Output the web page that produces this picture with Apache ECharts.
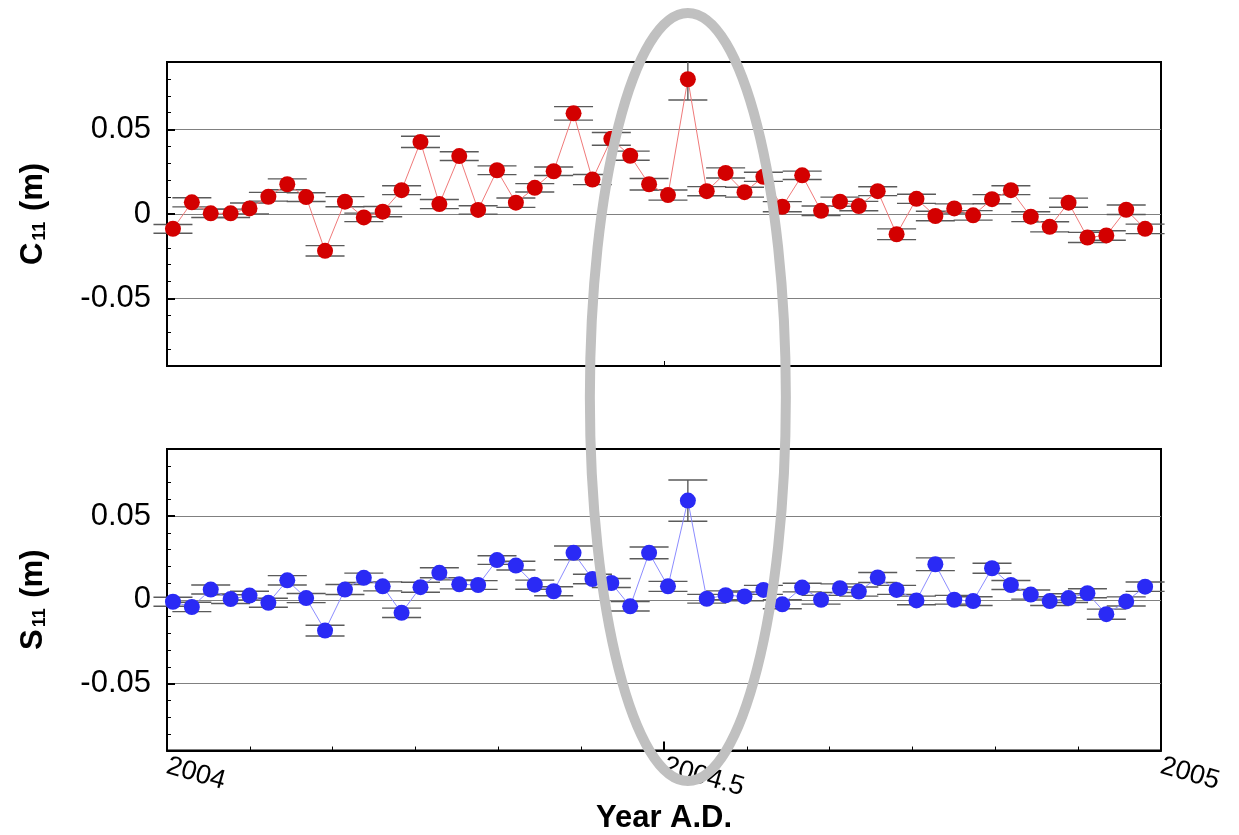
<!DOCTYPE html>
<html>
<head>
<meta charset="utf-8">
<script src="https://cdn.jsdelivr.net/npm/echarts@6/dist/echarts.min.js"></script>
<style>
  html, body { margin: 0; background: #fff; }
  #chart { width: 1239px; height: 835px; }
</style>
</head>
<body>
<div id="chart"></div>
<script>
// weekly epochs, decimal year
const years = [
  2004.006, 2004.025, 2004.044, 2004.064, 2004.083, 2004.102, 2004.121, 2004.140,
  2004.159, 2004.179, 2004.198, 2004.217, 2004.236, 2004.255, 2004.274, 2004.294,
  2004.313, 2004.332, 2004.351, 2004.370, 2004.389, 2004.409, 2004.428, 2004.447,
  2004.466, 2004.485, 2004.504, 2004.524, 2004.543, 2004.562, 2004.581, 2004.600,
  2004.619, 2004.639, 2004.658, 2004.677, 2004.696, 2004.715, 2004.734, 2004.754,
  2004.773, 2004.792, 2004.811, 2004.830, 2004.849, 2004.869, 2004.888, 2004.907,
  2004.926, 2004.945, 2004.965, 2004.984
];

const c11 = [
  -0.0088, 0.0069, 0.0004, 0.0004, 0.0033, 0.0102, 0.0176, 0.0100,
  -0.0218, 0.0073, -0.0020, 0.0014, 0.0141, 0.0427, 0.0059, 0.0343,
  0.0024, 0.0259, 0.0067, 0.0155, 0.0253, 0.0596, 0.0204, 0.0445,
  0.0345, 0.0176, 0.0112, 0.0798, 0.0135, 0.0243, 0.0129, 0.0220,
  0.0043, 0.0229, 0.0019, 0.0073, 0.0047, 0.0135, -0.0120, 0.0090,
  -0.0012, 0.0033, -0.0008, 0.0088, 0.0141, -0.0016, -0.0076, 0.0067,
  -0.0139, -0.0127, 0.0025, -0.0088
];
const c11Err = [
  0.0026, 0.0027, 0.0025, 0.0025, 0.0032, 0.0026, 0.0032, 0.0026,
  0.0031, 0.0030, 0.0025, 0.0030, 0.0026, 0.0033, 0.0027, 0.0026,
  0.0025, 0.0026, 0.0028, 0.0025, 0.0025, 0.0040, 0.0030, 0.0038,
  0.0027, 0.0034, 0.0030, 0.0123, 0.0027, 0.0030, 0.0029, 0.0027,
  0.0030, 0.0025, 0.0028, 0.0027, 0.0028, 0.0026, 0.0032, 0.0027,
  0.0028, 0.0027, 0.0028, 0.0027, 0.0026, 0.0029, 0.0030, 0.0027,
  0.0030, 0.0028, 0.0028, 0.0028
];

const s11 = [
  -0.0012, -0.0043, 0.0061, 0.0004, 0.0025, -0.0018, 0.0116, 0.0010,
  -0.0184, 0.0061, 0.0131, 0.0080, -0.0078, 0.0075, 0.0161, 0.0092,
  0.0088, 0.0237, 0.0204, 0.0090, 0.0051, 0.0280, 0.0124, 0.0100,
  -0.0039, 0.0280, 0.0080, 0.0592, 0.0006, 0.0027, 0.0020, 0.0059,
  -0.0027, 0.0073, 0.0000, 0.0069, 0.0049, 0.0133, 0.0059, -0.0004,
  0.0212, 0.0000, -0.0008, 0.0188, 0.0088, 0.0031, -0.0008, 0.0010,
  0.0039, -0.0086, -0.0010, 0.0078
];
const s11Err = [
  0.0027, 0.0028, 0.0027, 0.0026, 0.0026, 0.0027, 0.0028, 0.0027,
  0.0032, 0.0030, 0.0028, 0.0027, 0.0028, 0.0030, 0.0030, 0.0027,
  0.0026, 0.0026, 0.0026, 0.0027, 0.0027, 0.0041, 0.0028, 0.0027,
  0.0028, 0.0035, 0.0030, 0.0123, 0.0026, 0.0026, 0.0026, 0.0027,
  0.0027, 0.0026, 0.0026, 0.0026, 0.0027, 0.0030, 0.0027, 0.0026,
  0.0038, 0.0026, 0.0026, 0.0030, 0.0027, 0.0027, 0.0026, 0.0026,
  0.0027, 0.0030, 0.0027, 0.0028
];

const yMajor = [-0.05, 0, 0.05];
const xLabelsAt = [2004, 2004.5, 2005];
const highlightIndex = 27;

const FONT = "'Liberation Sans', Arial, Helvetica, sans-serif";

const chart = echarts.init(document.getElementById("chart"), null, {
  renderer: "canvas",
});

function errorBarItem(params, api) {
  const x = api.value(0);
  const y = api.value(1);
  const e = api.value(2);
  const top = api.coord([x, y + e]);
  const bot = api.coord([x, y - e]);
  const cs = params.coordSys;
  const yTop = cs.y;
  const yBot = cs.y + cs.height;
  const half = 19.5;
  const style = { stroke: "#5a5a5a", lineWidth: 1.4 };
  const children = [
    {
      type: "line",
      shape: {
        x1: top[0],
        y1: Math.max(top[1], yTop),
        x2: top[0],
        y2: Math.min(bot[1], yBot),
      },
      style: style,
    },
  ];
  if (top[1] >= yTop) {
    children.push({
      type: "line",
      shape: { x1: top[0] - half, y1: top[1], x2: top[0] + half, y2: top[1] },
      style: style,
    });
  }
  if (bot[1] <= yBot) {
    children.push({
      type: "line",
      shape: { x1: bot[0] - half, y1: bot[1], x2: bot[0] + half, y2: bot[1] },
      style: style,
    });
  }
  return { type: "group", children: children };
}

function yAxisName(letter) {
  return "{b|" + letter + "}{s|11}{b| (m)}";
}

function mainYAxis(gridIndex, letter) {
  return {
    gridIndex: gridIndex,
    type: "value",
    position: "left",
    min: -0.09,
    max: 0.09,
    name: yAxisName(letter),
    nameLocation: "middle",
    nameRotate: 90,
    nameGap: 118,
    nameTextStyle: {
      color: "#000",
      rich: {
        b: { fontSize: 31, fontWeight: "bold", fontFamily: FONT, color: "#000", lineHeight: 32 },
        s: { fontSize: 18, fontWeight: "bold", fontFamily: FONT, color: "#000", lineHeight: 18, verticalAlign: "bottom", padding: [0, 2, 0, 2] },
      },
    },
    axisLine: { show: true, lineStyle: { color: "#000", width: 2 } },
    axisTick: {
      show: true,
      inside: true,
      length: 8,
      customValues: yMajor,
      lineStyle: { color: "#000", width: 2 },
    },
    axisLabel: {
      customValues: yMajor,
      formatter: (v) => String(+v.toFixed(2)),
      fontSize: 31,
      fontFamily: FONT,
      color: "#000",
      margin: 16,
    },
    splitLine: { show: true, lineStyle: { color: "#808080", width: 1.2 } },
  };
}

function minorYAxis(gridIndex) {
  return {
    gridIndex: gridIndex,
    type: "value",
    position: "left",
    min: -0.09,
    max: 0.09,
    interval: 0.01,
    axisLine: { show: false },
    axisTick: { show: true, inside: true, length: 4, lineStyle: { color: "#000", width: 1 } },
    axisLabel: { show: false },
    splitLine: { show: false },
  };
}

function pairs(ys) {
  return years.map((x, i) => [x, ys[i]]);
}
function triples(ys, errs) {
  return years.map((x, i) => [x, ys[i], errs[i]]);
}

const option = {
  backgroundColor: "#fff",
  animation: false,
  grid: [
    { left: 167, top: 62, width: 994, height: 304, show: true, borderColor: "#000", borderWidth: 2, containLabel: false },
    { left: 167, top: 449, width: 994, height: 304, show: true, borderColor: "#000", borderWidth: 2, containLabel: false },
  ],
  xAxis: [
    {
      gridIndex: 0,
      type: "value",
      min: 2004,
      max: 2005,
      interval: 0.5,
      axisLine: { show: true, onZero: false, lineStyle: { color: "#000", width: 2 } },
      axisTick: { show: true, inside: true, length: 5, lineStyle: { color: "#000", width: 1 } },
      axisLabel: { show: false },
      splitLine: { show: false },
    },
    {
      gridIndex: 1,
      type: "value",
      min: 2004,
      max: 2005,
      interval: 0.5,
      name: "Year A.D.",
      nameLocation: "middle",
      nameGap: 49,
      nameTextStyle: { fontSize: 31, fontWeight: "bold", fontFamily: FONT, color: "#000" },
      axisLine: { show: true, onZero: false, lineStyle: { color: "#000", width: 2 } },
      axisTick: { show: true, inside: true, length: 9, lineStyle: { color: "#000", width: 2 } },
      minorTick: { show: true, splitNumber: 6, length: 4, lineStyle: { color: "#000", width: 1 } },
      axisLabel: {
        customValues: xLabelsAt,
        rotate: -16,
        fontSize: 27,
        fontFamily: FONT,
        color: "#000",
        margin: 15,
        formatter: (v) => String(v),
      },
      splitLine: { show: false },
    },
  ],
  yAxis: [mainYAxis(0, "C"), minorYAxis(0), mainYAxis(1, "S"), minorYAxis(1)],
  series: [
    {
      name: "C11 err",
      type: "custom",
      xAxisIndex: 0,
      yAxisIndex: 0,
      renderItem: errorBarItem,
      encode: { x: 0, y: 1 },
      data: triples(c11, c11Err),
      z: 3,
      silent: true,
    },
    {
      name: "C11",
      type: "line",
      xAxisIndex: 0,
      yAxisIndex: 0,
      data: pairs(c11),
      symbol: "circle",
      symbolSize: 16,
      itemStyle: { color: "#d30000" },
      lineStyle: { color: "#f07a7a", width: 1 },
      z: 4,
    },
    {
      name: "S11 err",
      type: "custom",
      xAxisIndex: 1,
      yAxisIndex: 2,
      renderItem: errorBarItem,
      encode: { x: 0, y: 1 },
      data: triples(s11, s11Err),
      z: 3,
      silent: true,
    },
    {
      name: "S11",
      type: "line",
      xAxisIndex: 1,
      yAxisIndex: 2,
      data: pairs(s11),
      symbol: "circle",
      symbolSize: 16,
      itemStyle: { color: "#2a2af5" },
      lineStyle: { color: "#8c8cff", width: 1 },
      z: 4,
    },
  ],
};

chart.setOption(option);

// grey annotation ring around the mid-2004 spike
const cx = chart.convertToPixel({ xAxisIndex: 0 }, years[highlightIndex]);
chart.setOption({
  graphic: [
    {
      type: "ellipse",
      shape: { cx: cx, cy: 397, rx: 98, ry: 384 },
      style: { fill: "none", stroke: "#c0c0c0", lineWidth: 10 },
      z: 100,
      silent: true,
    },
  ],
});
</script>
</body>
</html>
